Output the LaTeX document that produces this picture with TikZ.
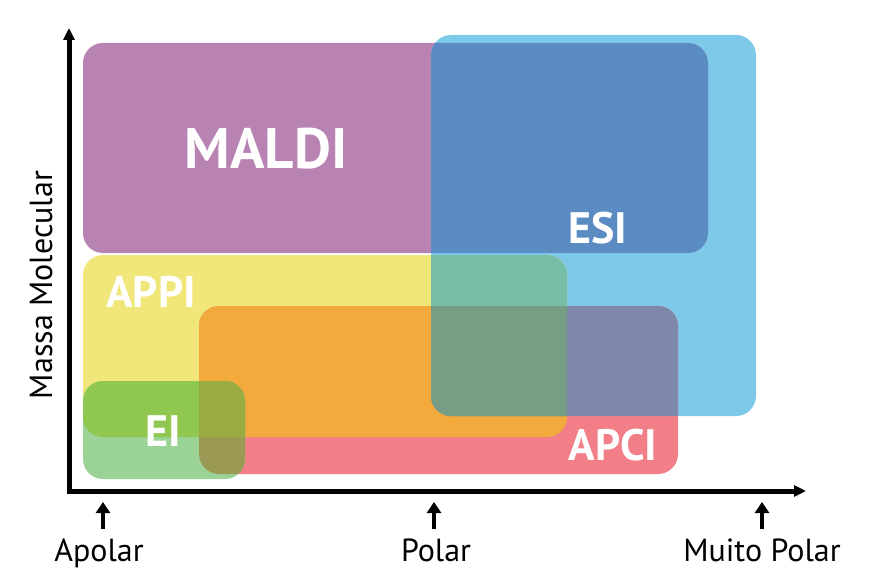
\documentclass[tikz,border=0pt]{standalone}
\usepackage{fontspec}
\setmainfont{PT Sans}
\usetikzlibrary{arrows.meta}
\definecolor{cP}{HTML}{B883B3}
\definecolor{cB}{HTML}{7FC9E8}
\definecolor{cPB}{HTML}{5A8CC3}
\definecolor{cY}{HTML}{F0E67A}
\definecolor{cYB}{HTML}{77BEA8}
\definecolor{cR}{HTML}{F27F87}
\definecolor{cRY}{HTML}{F2AA3C}
\definecolor{cRB}{HTML}{7F88AA}
\definecolor{cRYB}{HTML}{789D85}
\definecolor{cG}{HTML}{9BD296}
\definecolor{cGY}{HTML}{8FC750}
\definecolor{cGR}{HTML}{9A9A55}
\definecolor{cGRY}{HTML}{9AAB42}
\tikzset{
 shp/.style={rounded corners=20pt},
 rMALDI/.style={shp, insert path={(83,-43) rectangle (708,-253)}},
 rESI/.style={shp, insert path={(431,-35) rectangle (756,-416)}},
 rAPPI/.style={shp, insert path={(83,-255) rectangle (567,-437)}},
 rAPCI/.style={shp, insert path={(199,-306) rectangle (678,-474)}},
 rEI/.style={shp, insert path={(83,-381) rectangle (245,-479)}},
 biglab/.style={text=white, font=\bfseries\fontsize{57}{57}\selectfont, anchor=base, inner sep=0pt},
 midlab/.style={text=white, font=\bfseries\fontsize{44}{44}\selectfont, anchor=base, inner sep=0pt},
 axlab/.style={font=\fontsize{32}{32}\selectfont, anchor=base, inner sep=0pt},
 axisline/.style={line width=5pt, line join=miter, {Triangle[length=12pt,width=11pt]}-{Triangle[length=12pt,width=11pt]}},
 tickarrow/.style={line width=4.5pt, -{Triangle[length=11pt,width=14pt]}},
}
\begin{document}
\begin{tikzpicture}[x=1pt,y=1pt]
\useasboundingbox (0,0) rectangle (874,-580);
% regions
\fill[cP, rMALDI];
\fill[cB, rESI];
\begin{scope}\clip[rMALDI]; \fill[cPB, rESI];\end{scope}
\fill[cY, rAPPI];
\begin{scope}\clip[rAPPI]; \fill[cYB, rESI];\end{scope}
\fill[cR, rAPCI];
\begin{scope}\clip[rAPCI]; \fill[cRY, rAPPI];\end{scope}
\begin{scope}\clip[rAPCI]; \fill[cRB, rESI];\end{scope}
\begin{scope}\clip[rAPCI]; \clip[rAPPI]; \fill[cRYB, rESI];\end{scope}
\fill[cG, rEI];
\begin{scope}\clip[rEI]; \fill[cGY, rAPPI];\end{scope}
\begin{scope}\clip[rEI]; \fill[cGR, rAPCI];\end{scope}
\begin{scope}\clip[rEI]; \clip[rAPCI]; \fill[cGRY, rAPPI];\end{scope}
% labels
\node[biglab] (maldi) at (266,-168) {MALDI};
\node[midlab] (esi) at (598,-243) {ESI};
\node[midlab] (appi) at (151,-307) {APPI};
\node[midlab] (apci) at (613,-460) {APCI};
\node[midlab] (ei) at (163,-446) {EI};
% axes
\coordinate (ytip) at (69,-28);
\coordinate (xtip) at (806,-491);
\draw[axisline] (ytip) |- (xtip);
\node[axlab, rotate=90] (ylab) at (52,-285) {Massa Molecular};
% ticks
\coordinate (b1) at (103,-529); \coordinate (t1) at (103,-502);
\coordinate (b2) at (434,-529); \coordinate (t2) at (434,-502);
\coordinate (b3) at (762,-529); \coordinate (t3) at (762,-502);
\draw[tickarrow] (b1) -- (t1);
\draw[tickarrow] (b2) -- (t2);
\draw[tickarrow] (b3) -- (t3);
\node[axlab] (apolar) at (99,-561) {Apolar};
\node[axlab] (polar) at (436,-561) {Polar};
\node[axlab] (muito) at (762,-561) {Muito Polar};
\end{tikzpicture}
\end{document}
